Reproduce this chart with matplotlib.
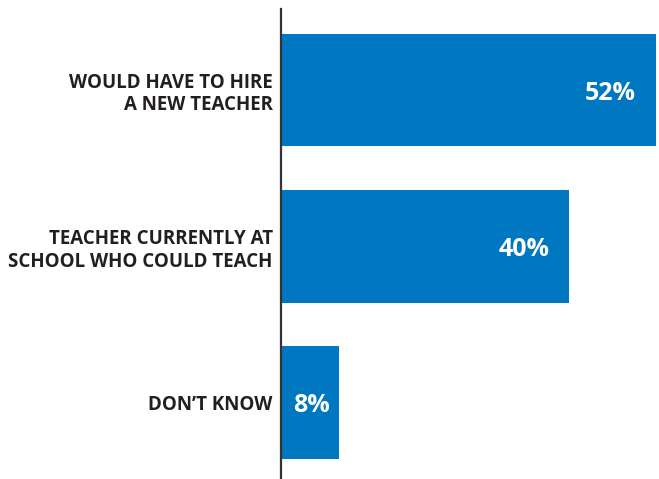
import matplotlib
matplotlib.use('Agg')
import matplotlib.pyplot as plt

# data
categories = ['WOULD HAVE TO HIRE\nA NEW TEACHER',
              'TEACHER CURRENTLY AT\nSCHOOL WHO COULD TEACH',
              'DON\u2019T KNOW']
values = [52, 40, 8]
value_labels = ['52%', '40%', '8%']

bar_color = '#0077C1'
text_color = '#231F20'

plt.rcParams['font.family'] = ['Open Sans', 'DejaVu Sans']

fig = plt.figure(figsize=(6.59, 4.79), dpi=100)
ax = fig.add_axes([281 / 659, 0.0, 375 / 659, 470 / 479])

y = range(len(categories))
ax.barh(y, values, height=0.72, color=bar_color, left=0)
ax.set_xlim(0, 52)
ax.set_ylim(2.49, -0.52)

# value labels inside the bars
for i, v in enumerate(values):
    if v > 20:
        ax.text(v - 2.8, i + 0.02, value_labels[i], ha='right', va='center',
                color='white', fontsize=18, fontweight='bold')
    else:
        ax.text(v / 2 + 0.2, i + 0.02, value_labels[i], ha='center', va='center',
                color='white', fontsize=18, fontweight='bold')

ax.set_yticks(list(y))
ax.set_yticklabels(categories, fontsize=13.5, fontweight='bold',
                   color=text_color, linespacing=1.18, ha='right')
ax.tick_params(axis='y', length=0, pad=6)
ax.set_xticks([])

for s in ['top', 'right', 'bottom']:
    ax.spines[s].set_visible(False)
ax.spines['left'].set_color('#333333')
ax.spines['left'].set_linewidth(1.6)

fig.savefig('out.png', dpi=100)
